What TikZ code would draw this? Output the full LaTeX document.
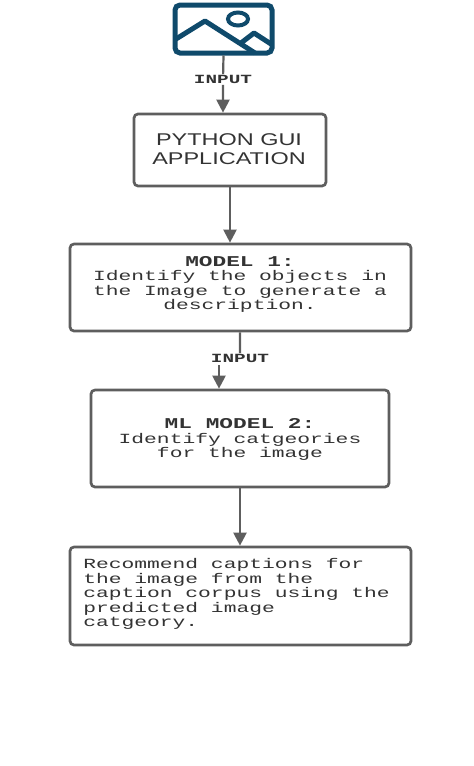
\documentclass[tikz,border=0pt]{standalone}
\usepackage{fontspec}
\setmainfont{Liberation Sans}
\setmonofont{Liberation Mono}
\usetikzlibrary{arrows.meta,shapes.geometric}
\definecolor{iconblue}{HTML}{0F4A6B}
\definecolor{linegray}{HTML}{5E5E5E}
\definecolor{textgray}{HTML}{333333}

\begin{document}
\begin{tikzpicture}[
    x=1pt, y=-1pt,
    flowbox/.style={draw=linegray, line width=2.7pt, rounded corners=4pt, inner sep=0pt},
    boxtext/.style={xscale=1.52, transform shape, align=center, text=textgray, inner sep=0pt, font=\ttfamily\fontsize{14}{14.5}\selectfont},
    guitext/.style={xscale=1.38, transform shape, align=center, text=textgray, inner sep=0pt, font=\fontsize{17}{18.5}\selectfont},
    inputtext/.style={xscale=1.55, transform shape, fill=white, text=textgray, inner sep=1pt, font=\ttfamily\bfseries\fontsize{12.5}{12.5}\selectfont},
    flowline/.style={draw=linegray, line width=2.2pt},
    flowarrow/.style={flowline, -{Triangle[width=13pt,length=13pt]}},
    iconline/.style={draw=iconblue, line width=5pt}
]
    \useasboundingbox (0,0) rectangle (474,766);
    % Image icon on top
    \node[iconline, rounded corners=5pt, inner sep=0pt, minimum width=97pt, minimum height=48pt] (icon) at (223.5,29) {};
    \node[iconline, line width=4pt, ellipse, inner sep=0pt, minimum width=20pt, minimum height=13pt] (sun) at (238,19) {};
    \coordinate (hillA) at (176,39);
    \coordinate (peakA) at (205,21);
    \coordinate (hillB) at (255,53);
    \coordinate (hillC) at (241,43);
    \coordinate (peakB) at (254,33);
    \coordinate (hillD) at (271,44);
    \draw[iconline, line join=round] (hillA) -- (peakA) -- (hillB);
    \draw[iconline, line join=round] (hillC) -- (peakB) -- (hillD);
    % Boxes
    \node[flowbox, minimum width=192pt, minimum height=72pt] (gui) at (230,150) {};
    \node[flowbox, minimum width=341pt, minimum height=87pt] (model1) at (240.5,287.5) {};
    \node[flowbox, minimum width=298pt, minimum height=97pt] (model2) at (240,438.5) {};
    \node[flowbox, minimum width=341pt, minimum height=98pt] (captions) at (240.5,596) {};
    % Box texts
    \node[guitext] (guilabel) at (229,149) {PYTHON GUI\\APPLICATION};
    \node[boxtext] (model1label) at (240,284.5) {\textbf{\fontsize{15}{14.5}\selectfont MODEL 1:}\\Identify the objects in\\the Image to generate a\\description.};
    \node[boxtext] (model2label) at (240,439.5) {\textbf{\fontsize{15}{18}\selectfont ML MODEL 2:}\\Identify catgeories\\for the image};
    \node[boxtext, align=left, anchor=west] (captionslabel) at (83,594) {Recommend captions for\\the image from the\\caption corpus using the\\predicted image\\catgeory.};
    % Connectors
    \node[inputtext] (inputa) at (223,79.5) {INPUT};
    \node[inputtext] (inputb) at (240,358.5) {INPUT};
    \coordinate (inputbout) at (219,365);
    \draw[flowline] (icon.south) -- (inputa);
    \draw[flowarrow] (inputa) -- (gui.north -| inputa);
    \draw[flowarrow] (gui.south) -- (model1.north -| gui.south);
    \draw[flowline] (model1.south -| inputb) -- (inputb);
    \draw[flowarrow] (inputbout) -- (model2.north -| inputbout);
    \draw[flowarrow] (model2.south) -- (captions.north -| model2.south);
\end{tikzpicture}
\end{document}
